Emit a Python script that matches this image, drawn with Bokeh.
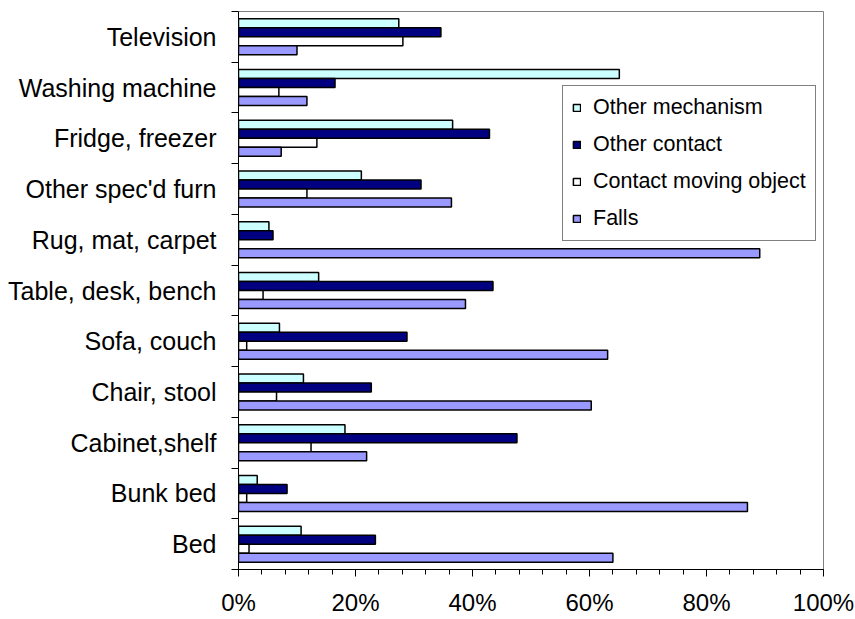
from bokeh.plotting import figure
from bokeh.models import (ColumnDataSource, Range1d, FixedTicker, PrintfTickFormatter,
                          Legend, LegendItem)
from bokeh.transform import dodge
from bokeh.embed import file_html
from bokeh.resources import INLINE

# Data (bottom-to-top order as drawn)
categories = ["Bed", "Bunk bed", "Cabinet,shelf", "Chair, stool", "Sofa, couch",
              "Table, desk, bench", "Rug, mat, carpet", "Other spec'd furn",
              "Fridge, freezer", "Washing machine", "Television"]
falls = [64.0, 87.0, 21.9, 60.3, 63.1, 38.8, 89.1, 36.4, 7.3, 11.7, 10.0]
contact_moving_object = [1.8, 1.4, 12.4, 6.5, 1.4, 4.2, 0.0, 11.7, 13.4, 6.9, 28.1]
other_contact = [23.4, 8.3, 47.6, 22.7, 28.8, 43.5, 5.9, 31.2, 42.9, 16.5, 34.6]
other_mechanism = [10.7, 3.2, 18.2, 11.1, 7.0, 13.7, 5.2, 21.0, 36.6, 65.1, 27.4]
series_names = ["Other mechanism", "Other contact", "Contact moving object", "Falls"]
x_ticks = [0, 20, 40, 60, 80, 100]
x_minor_ticks = [0, 4, 8, 12, 16, 20, 24, 28, 32, 36, 40, 44, 48, 52, 56, 60,
                 64, 68, 72, 76, 80, 84, 88, 92, 96, 100]

n = len(categories)
pos = [i + 1 for i in range(n)]
bounds = [i + 0.5 for i in range(n + 1)]

source = ColumnDataSource(dict(
    pos=pos,
    other_mechanism=other_mechanism,
    other_contact=other_contact,
    contact_moving_object=contact_moving_object,
    falls=falls,
))

FONT = "Liberation Sans"

p = figure(width=855, height=619, output_backend="svg", toolbar_location=None,
           x_range=Range1d(0, 100), y_range=Range1d(0.5, n + 0.5),
           min_border_left=238, min_border_right=32, min_border_top=11,
           min_border_bottom=50)
p.background_fill_color = "white"
p.border_fill_color = "white"
p.outline_line_color = "#808080"
p.outline_line_width = 1
p.xgrid.visible = False
p.ygrid.visible = False

bar_h = 0.1775
specs = [
    ("other_mechanism", "#CCFFFF", 1.5),
    ("other_contact", "#000080", 0.5),
    ("contact_moving_object", "#FFFFFF", -0.5),
    ("falls", "#9999FF", -1.5),
]
renderers = []
for key, color, off in specs:
    r = p.hbar(y=dodge("pos", off * bar_h), left=0, right=key, height=bar_h,
               fill_color=color, line_color="black", line_width=1.5, source=source)
    renderers.append(r)

# X axis
xa = p.xaxis[0]
xa.ticker = FixedTicker(ticks=x_ticks, minor_ticks=x_minor_ticks)
xa.formatter = PrintfTickFormatter(format="%d%%")
xa.axis_line_color = "black"
xa.major_tick_line_color = "black"
xa.minor_tick_line_color = "black"
xa.major_tick_out = 7
xa.major_tick_in = 0
xa.minor_tick_out = 5
xa.minor_tick_in = 0
xa.major_label_standoff = 12
xa.major_label_text_font = FONT
xa.major_label_text_font_size = "24px"
xa.major_label_text_color = "black"

# Y axis
ya = p.yaxis[0]
ya.ticker = FixedTicker(ticks=pos, minor_ticks=bounds)
ya.major_label_overrides = {pp: c for pp, c in zip(pos, categories)}
ya.axis_line_color = "black"
ya.major_tick_out = 0
ya.major_tick_in = 0
ya.minor_tick_line_color = "black"
ya.minor_tick_out = 7
ya.minor_tick_in = 0
ya.major_label_standoff = 15
ya.major_label_text_font = FONT
ya.major_label_text_font_size = "25px"
ya.major_label_text_color = "black"

items = [LegendItem(label=nm, renderers=[r]) for nm, r in zip(series_names, renderers)]
legend = Legend(items=items, location=(324, 328), orientation="vertical",
                glyph_width=9, glyph_height=9, label_standoff=12,
                label_height=24, spacing=12, padding=9, margin=0,
                label_text_font=FONT, label_text_font_size="21.5px",
                label_text_color="black",
                border_line_color="black", border_line_width=1,
                background_fill_color="white", background_fill_alpha=1.0)
p.add_layout(legend)

open("out.html", "w").write(file_html(p, INLINE))
